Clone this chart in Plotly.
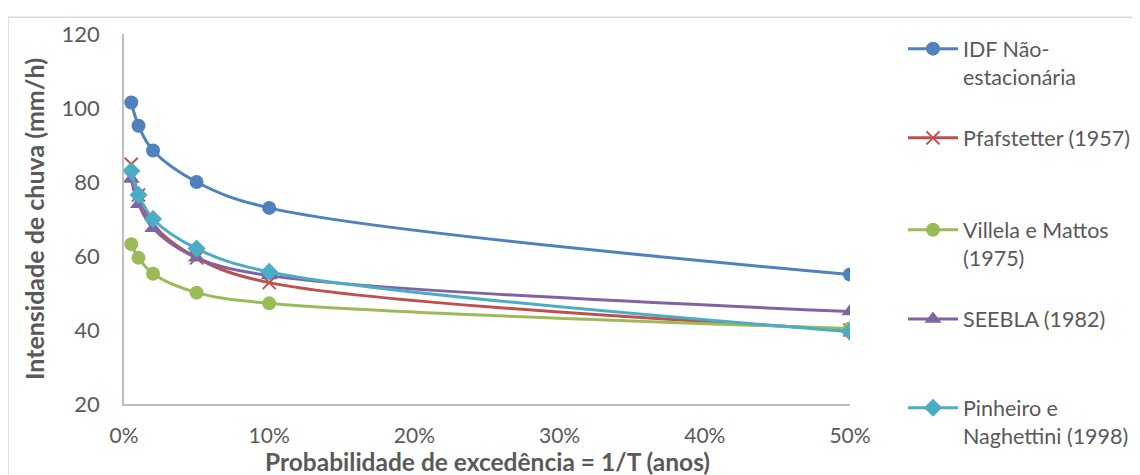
import plotly.graph_objects as go

# probabilidade de excedência (fração)
prob = [0.005, 0.01, 0.02, 0.05, 0.10, 0.50]

idf_nao_estacionaria = [101.5, 95.2, 88.5, 80.0, 73.0, 55.0]
pfafstetter_1957 = [84.8, 76.5, 68.5, 59.5, 52.8, 40.0]
villela_mattos_1975 = [63.2, 59.5, 55.2, 50.1, 47.2, 40.4]
seebla_1982 = [80.8, 74.0, 67.5, 59.5, 54.7, 45.0]
pinheiro_naghettini_1998 = [83.0, 76.5, 70.0, 62.0, 55.7, 39.5]

series = [
    ("IDF Não-<br>estacionária", idf_nao_estacionaria, "#4F81BD", "circle"),
    ("Pfafstetter (1957)", pfafstetter_1957, "#C0504D", "x-thin"),
    ("Villela e Mattos<br>(1975)", villela_mattos_1975, "#9BBB59", "circle"),
    ("SEEBLA (1982)", seebla_1982, "#8064A2", "triangle-up"),
    ("Pinheiro e<br>Naghettini (1998)", pinheiro_naghettini_1998, "#4BACC6", "diamond"),
]

FONT = "Lato"
GREY = "#595959"

# a página desloca tudo 8 px (margem do body)
OFF = 8
W, H = 1140, 475
px_left, px_right, px_top, px_bottom = 124 - OFF, 850 - OFF, 30 - OFF, 404 - OFF
pw, ph = px_right - px_left, px_bottom - px_top


def xpaper(px):
    return (px - OFF - px_left) / pw


def ypaper(py):
    return (px_bottom - (py - OFF)) / ph


fig = go.Figure()
for i, (name, vals, color, sym) in enumerate(series):
    if sym == "x-thin":
        marker = dict(symbol=sym, size=13, line=dict(color=color, width=2), color=color)
    else:
        marker = dict(symbol=sym, size=14 if sym != "triangle-up" else 15, color=color)
    fig.add_trace(go.Scatter(
        x=prob, y=vals, name=name, mode="lines+markers",
        line=dict(color=color, width=3, shape="spline", smoothing=1),
        marker=marker, legend="legend" if i == 0 else f"legend{i + 1}",
    ))

LEG_SIZE = 21.5
# posição (px) do marcador na legenda, e número de linhas do texto
legend_marks = [(45, 2), (135, 1), (228, 2), (318, 1), (408, 2)]
layout_legends = {}
for i, (py, nlines) in enumerate(legend_marks):
    key = "legend" if i == 0 else f"legend{i + 1}"
    yy = py + (nlines - 1) * LEG_SIZE * 1.3 / 2
    layout_legends[key] = dict(
        font=dict(family=FONT, size=LEG_SIZE, color=GREY), bgcolor="rgba(0,0,0,0)",
        itemwidth=50, valign="top", xanchor="left", yanchor="middle",
        x=xpaper(903), y=ypaper(yy),
    )

fig.update_layout(
    width=W, height=H,
    margin=dict(l=px_left, r=W - px_right, t=px_top, b=H - px_bottom),
    paper_bgcolor="white", plot_bgcolor="white",
    font=dict(family=FONT, color=GREY),
    showlegend=True,
    **layout_legends,
    xaxis=dict(
        range=[0, 0.5], tickvals=[0, 0.1, 0.2, 0.3, 0.4, 0.5], tickformat=".0%",
        showgrid=False, zeroline=False, showline=True, linecolor="#BFBFBF", linewidth=1.5,
        ticks="outside", ticklen=12, tickcolor="rgba(0,0,0,0)",
        tickfont=dict(family=FONT, size=21, color=GREY),
    ),
    yaxis=dict(
        range=[20, 120], tickvals=[20, 40, 60, 80, 100, 120],
        showgrid=False, zeroline=False, showline=True, linecolor="#BFBFBF", linewidth=1.5,
        ticks="outside", ticklen=18, tickcolor="rgba(0,0,0,0)",
        tickfont=dict(family=FONT, size=22, color=GREY),
        title=dict(text="<b>Intensidade de chuva (mm/h)</b>",
                   font=dict(family=FONT, size=25, color=GREY), standoff=10),
    ),
    annotations=[dict(text="<b>Probabilidade de excedência = 1/T (anos)</b>",
                      xref="paper", yref="paper", x=0.5, y=ypaper(462),
                      xanchor="center", yanchor="middle", showarrow=False,
                      font=dict(family=FONT, size=24.5, color=GREY))],
    shapes=[dict(type="rect", xref="paper", yref="paper",
                 x0=xpaper(8), x1=2.0, y0=-1.0, y1=ypaper(13),
                 line=dict(color="#D9D9D9", width=1.5), fillcolor="rgba(0,0,0,0)", layer="below")],
)

fig.write_html("out.html")
